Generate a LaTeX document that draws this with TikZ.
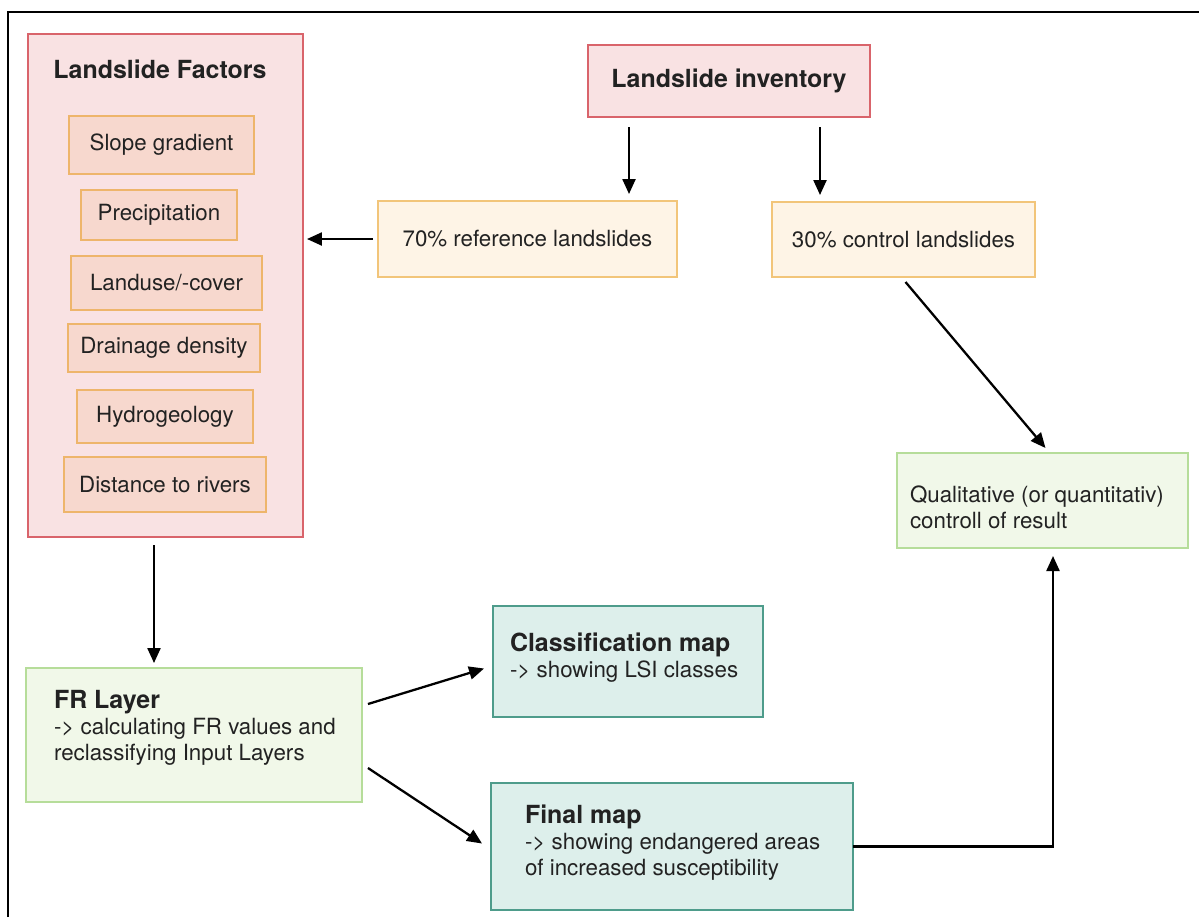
\documentclass[tikz,border=0pt]{standalone}
\usepackage{fontspec}
\setmainfont{TeX Gyre Heros}
\usetikzlibrary{arrows.meta,positioning}

\definecolor{factfill}{HTML}{F9E2E3}
\definecolor{factdraw}{HTML}{D9646B}
\definecolor{subfill}{HTML}{F7D8CE}
\definecolor{subdraw}{HTML}{EEB56B}
\definecolor{splitfill}{HTML}{FEF4E6}
\definecolor{splitdraw}{HTML}{F2C57A}
\definecolor{greenfill}{HTML}{F1F8E9}
\definecolor{greendraw}{HTML}{B6DD9A}
\definecolor{tealfill}{HTML}{DDEFEB}
\definecolor{tealdraw}{HTML}{4E9C8B}
\definecolor{inktext}{HTML}{222222}

\newcommand{\headfont}{\fontsize{14.2}{16}\selectfont\bfseries}
\newcommand{\bodyfont}{\fontsize{12.7}{14.8}\selectfont}

\tikzset{
  every node/.style={font=\bodyfont, text=inktext, inner sep=0, outer sep=0},
  factbox/.style={draw=factdraw, fill=factfill, line width=0.9pt},
  subbox/.style={draw=subdraw, fill=subfill, line width=0.9pt},
  splitbox/.style={draw=splitdraw, fill=splitfill, line width=0.9pt},
  greenbox/.style={draw=greendraw, fill=greenfill, line width=0.9pt},
  tealbox/.style={draw=tealdraw, fill=tealfill, line width=0.9pt},
  boxtext/.style={anchor=west, align=left},
  arrow/.style={line width=1.3pt, -{Triangle[length=0.3cm, width=0.26cm]}},
}

\begin{document}
\begin{tikzpicture}[x=0.02cm, y=-0.02cm]
\useasboundingbox (0,0) rectangle (1199,917);
\draw[line width=1.5pt] (8,917) -- (8,12) -- (1199,12);

% factors
\node[factbox, minimum width=5.5cm, minimum height=10.06cm] (factors) at (165.5,285.5) {};
\node[font=\headfont] (facttitle) at (160,69) {Landslide Factors};
\node[subbox, minimum width=3.7cm, minimum height=1.16cm] (slope) at (161.5,145) {Slope gradient};
\node[subbox, minimum width=3.12cm, minimum height=1.0cm] (precip) at (159,215) {Precipitation};
\node[subbox, minimum width=3.82cm, minimum height=1.08cm] (landuse) at (166.5,283) {Landuse/-cover};
\node[subbox, minimum width=3.84cm, minimum height=0.96cm] (drainage) at (164,348) {Drainage density};
\node[subbox, minimum width=3.52cm, minimum height=1.06cm] (hydro) at (165,416.5) {Hydrogeology};
\node[subbox, minimum width=4.04cm, minimum height=1.1cm] (rivers) at (165,484.5) {Distance to rivers};

% inventory and split
\node[factbox, font=\headfont, minimum width=5.64cm, minimum height=1.44cm] (inventory) at (729,81) {Landslide inventory};
\node[splitbox, minimum width=5.98cm, minimum height=1.52cm] (refls) at (527.5,239) {70\% reference landslides};
\node[splitbox, minimum width=5.26cm, minimum height=1.5cm] (ctrlls) at (903.5,239.5) {30\% control landslides};

% results
\node[greenbox, minimum width=5.82cm, minimum height=1.9cm] (control) at (1042.5,500.5) {};
\node[boxtext] (controltext) at ([shift={(13,7)}]control.west)
  {Qualitative (or quantitativ)\\controll of result};
\node[greenbox, minimum width=6.72cm, minimum height=2.68cm] (frlayer) at (194,735) {};
\node[boxtext] (frtext) at ([shift={(28,-7)}]frlayer.west)
  {{\headfont FR Layer}\\-> calculating FR values and\\reclassifying Input Layers};
\node[tealbox, minimum width=5.4cm, minimum height=2.22cm] (classmap) at (628,661.5) {};
\node[boxtext] (classtext) at ([shift={(17,-4)}]classmap.west)
  {{\headfont Classification map}\\-> showing LSI classes};
\node[tealbox, minimum width=7.24cm, minimum height=2.54cm] (finalmap) at (672,846.5) {};
\node[boxtext] (finaltext) at ([shift={(34,-4)}]finalmap.west)
  {{\headfont Final map}\\-> showing endangered areas\\of increased susceptibility};

% connectors
\coordinate (invleft) at (629,127);
\coordinate (invright) at (820,127);
\coordinate (factdown) at (154,545);
\coordinate (bend) at (1053,846.5);

\draw[arrow, shorten >=0.14cm] (invleft) -- (invleft |- refls.north);
\draw[arrow, shorten >=0.14cm] (invright) -- (invright |- ctrlls.north);
\draw[arrow, shorten <=0.1cm, shorten >=0.08cm] (refls.west) -- (refls.west -| factors.east);
\draw[arrow, shorten >=0.1cm] (factdown) -- (factdown |- frlayer.north);
\draw[arrow] ([shift={(6,-31)}]frlayer.east) -- ([shift={(-9,7)}]classmap.west);
\draw[arrow] ([shift={(6,33)}]frlayer.east) -- ([shift={(-9,-3)}]finalmap.west);
\draw[arrow] ([shift={(2,5)}]ctrlls.south) -- ([shift={(3,-5)}]control.north);
\draw[arrow, shorten >=0.16cm] (finalmap.east) -- (bend) -- (bend |- control.south);
\end{tikzpicture}
\end{document}
